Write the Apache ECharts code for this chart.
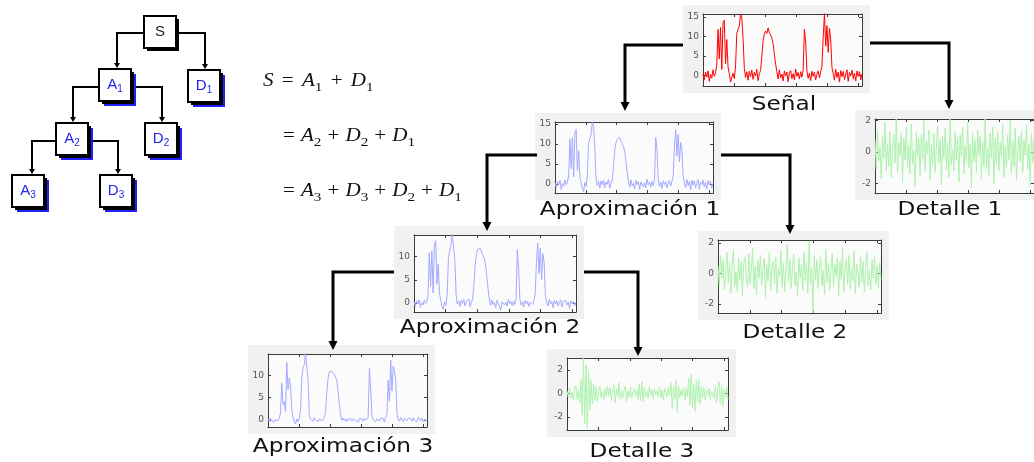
<!DOCTYPE html>
<html>
<head>
<meta charset="utf-8">
<script src="https://cdn.jsdelivr.net/npm/echarts@6/dist/echarts.min.js"></script>
<style>
html, body { margin: 0; padding: 0; background: #ffffff; }
#chart { width: 1034px; height: 462px; }
</style>
</head>
<body>
<div id="chart"></div>
<script>
// Original signal and the three-level wavelet decomposition (approximations and details)
const senal = [0.3,-1.2,0.8,-0.5,1.1,-1.6,0.2,-0.8,1.4,-0.3,0.6,
  2.5,11.8,4.2,12.3,1.5,13.5,14.2,3.0,9.2,2.1,0.4,-1.8,-2.3,0.5,-0.9,
  2.4,10.8,11.9,12.6,15.8,14.9,9.5,1.8,-0.6,0.9,-1.3,1.0,-0.4,1.3,-1.1,0.7,-0.2,1.5,-1.4,0.4,
  1.2,4.8,8.9,10.6,11.4,10.8,12.2,11.0,10.4,9.6,8.1,5.4,2.8,0.9,-1.0,1.4,-0.7,0.3,-1.5,1.1,-0.2,0.8,-1.7,0.6,1.2,-0.9,0.4,-1.2,1.6,-0.3,0.7,-1.0,0.9,-0.5,
  1.3,11.9,8.6,1.1,-0.8,0.5,-1.4,1.0,-0.3,0.8,-1.2,0.2,1.1,-0.7,0.9,
  2.2,9.8,15.9,7.5,12.8,5.9,12.1,9.3,2.0,0.4,-1.3,1.5,-0.6,0.8,-1.8,1.2,-0.4,1.0,-1.1,0.3,1.4,-1.6,0.7,-0.2,1.3,-0.9,0.5,-1.5,1.1,-0.3,0.9,-1.2,0.4];

const aprox1 = [0.4,-1.0,0.6,-0.3,0.9,-1.4,0.1,-0.6,1.0,-0.2,0.5,
  2.0,11.2,3.8,11.6,1.8,13.0,13.6,3.4,8.3,1.6,0.3,-1.2,-1.9,0.4,-0.6,
  2.0,10.2,11.4,12.3,15.5,14.2,9.0,1.5,-0.4,0.7,-1.0,0.8,-0.2,1.0,-0.9,0.5,-0.1,1.1,-1.1,0.3,
  1.0,4.4,8.5,10.3,11.2,10.9,11.6,10.7,10.1,9.4,8.2,5.6,2.9,0.8,-0.8,1.0,-0.5,0.2,-1.2,0.9,-0.1,0.6,-1.4,0.5,0.9,-0.7,0.3,-1.0,1.2,-0.2,0.5,-0.8,0.7,-0.4,
  1.1,11.6,8.2,1.0,-0.6,0.4,-1.1,0.8,-0.2,0.6,-1.0,0.2,0.9,-0.5,0.7,
  2.0,9.2,13.6,7.0,12.4,5.5,10.4,8.6,1.8,0.3,-1.0,1.2,-0.4,0.6,-1.5,1.0,-0.3,0.8,-0.9,0.2,1.1,-1.3,0.5,-0.1,1.0,-0.7,0.4,-1.2,0.9,-0.2,0.7,-1.0,0.3];

const detalle1 = [0.8,-1.1,1.4,-0.6,0.3,-1.7,1.0,-0.4,1.9,-1.2,0.5,-0.9,1.3,-1.6,0.2,1.1,-0.7,2.1,-1.3,0.6,
  -0.2,1.2,-1.9,0.9,-0.5,1.6,-1.0,0.4,-1.4,1.8,-0.8,0.1,-2.2,1.3,-0.3,0.9,-1.5,1.1,-0.6,2.0,
  -1.2,0.7,-0.1,1.4,-1.8,0.5,-0.9,1.2,-1.3,0.3,1.7,-0.7,0.8,-2.1,1.0,-0.4,1.5,-1.1,0.6,-1.6,
  2.2,-0.8,0.2,-1.2,1.3,-0.5,0.9,-1.9,1.1,-0.3,1.6,-1.4,0.4,-0.7,1.9,-1.0,0.5,-2.3,1.2,-0.6,
  0.8,-1.3,1.4,-0.2,1.0,-1.7,0.7,-0.9,2.1,-1.1,0.3,-1.5,1.2,-0.4,1.6,-2.0,0.9,-0.8,1.3,-1.2,
  0.6,-0.3,1.8,-1.6,0.4,-1.0,1.1,-0.5,2.0,-1.4,0.7,-0.9,1.5,-1.8,0.2,1.0,-0.6,1.4,-1.3,0.8,
  -0.2,1.7,-1.1,0.5,-2.1,1.2,-0.7,0.9];

const aprox2 = [0.3,-0.6,0.5,-0.2,0.7,-0.9,0.1,-0.4,0.6,-0.1,0.4,
  1.6,10.8,3.6,11.2,2.2,12.6,13.4,4.0,8.4,2.0,0.6,-0.8,-1.3,0.3,-0.5,
  1.8,9.8,11.2,12.6,14.8,14.6,9.4,1.8,-0.2,0.5,-0.7,0.6,-0.1,0.8,-0.6,0.4,0.0,0.9,-0.8,0.2,
  0.9,4.2,8.3,10.6,11.5,11.2,11.7,10.9,10.2,9.6,8.4,6.0,3.2,0.9,-0.5,0.7,-0.3,0.2,-1.0,0.6,0.0,0.4,-1.5,0.3,0.7,-0.4,0.2,-0.6,0.8,-0.1,0.4,-0.6,0.5,-0.3,
  0.9,11.4,7.6,0.8,-0.4,0.3,-0.8,0.6,-0.1,0.4,-0.7,0.2,0.6,-0.3,0.5,
  1.8,8.9,12.9,6.4,11.8,5.0,10.6,8.8,1.6,0.2,-0.6,0.8,-0.2,0.4,-1.0,0.6,-0.2,0.5,-0.6,0.1,0.7,-0.8,0.3,0.0,0.6,-0.4,0.2,-1.2,0.5,-0.1,0.4,-0.6,0.2];

const detalle2 = [0.5,-0.8,1.2,-0.3,0.9,-1.1,0.2,1.4,-0.6,0.7,-1.3,0.4,1.6,-0.9,0.1,-1.2,1.0,-0.4,0.8,-1.5,
  0.6,1.1,-0.2,-0.9,1.3,-0.7,0.3,1.7,-1.0,0.5,-1.4,0.9,-0.3,1.2,-0.8,0.2,1.0,-1.6,0.6,-0.5,
  1.4,-1.1,0.4,0.8,-0.7,1.1,-1.3,0.3,-0.2,1.5,-0.9,0.7,-1.2,0.2,1.9,-0.6,0.9,-1.0,0.4,1.3,
  -0.8,0.1,-1.5,1.0,-0.3,0.6,-1.1,1.4,-0.5,0.8,-1.3,2.1,-0.7,0.3,-2.6,1.2,-0.4,0.9,-1.0,0.5,
  1.1,-0.8,0.2,-1.4,1.6,-0.6,0.7,-1.1,0.3,1.3,-0.9,0.6,-0.2,1.0,-1.5,0.8,-0.4,1.7,-1.2,0.4,
  0.9,-0.7,1.2,-1.0,0.3,-0.5,1.5,-1.3,0.6,0.1,-0.9,1.1,-0.6,0.8,-1.2,0.4,1.4,-0.8,0.2,-1.1,
  0.9,-0.3,1.2,-0.7,0.5,-1.0,0.7,-0.4];

const aprox3 = [0.2,-0.3,0.4,-0.1,0.3,-0.5,0.1,0.2,-0.2,0.4,
  1.5,8.2,3.5,4.1,1.8,12.9,6.8,9.4,7.6,2.5,0.6,-0.3,-0.9,0.2,-0.4,
  0.4,2.2,9.6,11.8,12.4,15.0,14.6,8.8,1.2,0.1,0.4,-0.3,0.5,0.0,0.3,-0.4,0.2,0.6,-0.2,0.1,
  0.5,1.9,6.2,9.4,10.8,11.0,10.9,10.6,10.2,9.8,8.9,6.4,3.4,1.2,-0.1,0.4,-0.2,0.3,-0.4,0.2,0.1,0.3,-0.3,0.2,0.4,-0.2,0.1,-0.5,0.3,0.0,0.2,-0.3,0.4,-0.1,0.2,
  0.6,11.5,7.2,0.9,0.0,0.3,-0.4,0.2,0.1,-0.2,0.4,0.0,0.3,-0.5,0.6,
  1.2,8.9,4.2,13.4,6.5,12.1,11.0,9.0,1.4,0.2,-0.3,0.5,0.1,-0.4,0.3,0.2,-0.2,0.4,0.0,0.3,-0.3,0.5,-0.1,0.2,-0.4,0.6,0.3,-0.2,0.4,-0.5,0.1,0.3,-0.2];

const detalle3 = [0.2,-0.3,0.5,-0.4,0.1,-0.6,0.4,0.7,-0.5,0.3,-0.8,
  1.2,-1.8,3.1,-2.6,2.4,-3.0,1.9,-1.4,1.1,-0.9,
  0.8,-0.6,0.5,-0.7,0.3,0.6,-0.4,0.2,-0.5,0.4,-0.3,0.6,-0.2,0.5,-0.6,0.3,
  0.7,-0.8,0.4,-0.3,0.9,-0.5,0.2,-0.4,0.3,0.6,-0.7,0.2,-0.3,0.5,-0.4,0.1,0.4,-0.2,0.3,-0.5,
  0.8,-0.6,1.0,-0.7,0.5,-0.3,0.2,-0.4,0.6,-0.2,0.3,-0.5,0.4,-0.1,0.2,-0.3,0.5,-0.4,0.3,-0.6,0.4,0.1,-0.3,0.5,-0.2,
  0.9,-1.3,0.6,-0.5,1.1,-1.6,0.7,-0.4,0.3,-0.2,0.5,-0.6,0.4,-0.3,
  1.3,-1.0,1.6,-1.2,0.8,-1.5,1.1,-0.7,1.2,-0.9,0.6,-0.4,0.5,-0.6,0.3,-0.2,0.4,-0.5,0.2,0.3,-0.4,0.6,-0.8,0.5,1.0,-0.9,0.7,-1.1,0.4,-0.3,0.6,-0.5];

// Panel titles and y tick values
const titles = ['Señal', 'Aproximación 1', 'Detalle 1', 'Aproximación 2', 'Detalle 2', 'Aproximación 3', 'Detalle 3'];
const ticksAprox = [0, 5, 10, 15];
const ticksAproxLow = [0, 5, 10];
const ticksDetalle = [-2, 0, 2];

// Layout of each small plot: [left, top, width, height], y range, title centre
const plots = [
  { data: senal,    color: '#ff0000', box: [703, 14, 159, 72],  y: [-2.8, 15.8], ticks: ticksAprox,    title: titles[0], tx: 784, ty: 105 },
  { data: aprox1,   color: '#a4a9ff', box: [555, 122, 158, 71], y: [-2.25, 15.5], ticks: ticksAprox,   title: titles[1], tx: 630, ty: 210 },
  { data: detalle1, color: '#aef2ae', box: [875, 119, 162, 74], y: [-2.6, 2.1],  ticks: ticksDetalle,  title: titles[2], tx: 950, ty: 210 },
  { data: aprox2,   color: '#a4a9ff', box: [414, 235, 162, 77], y: [-1.9, 14.6], ticks: ticksAproxLow, title: titles[3], tx: 490, ty: 328 },
  { data: detalle2, color: '#aef2ae', box: [718, 240, 163, 73], y: [-2.6, 2.2],  ticks: ticksDetalle,  title: titles[4], tx: 795, ty: 333 },
  { data: aprox3,   color: '#a4a9ff', box: [268, 354, 159, 73], y: [-1.6, 14.8], ticks: ticksAproxLow, title: titles[5], tx: 343, ty: 447 },
  { data: detalle3, color: '#aef2ae', box: [567, 358, 161, 72], y: [-3.1, 3.0],  ticks: ticksDetalle,  title: titles[6], tx: 642, ty: 452 }
];

const grids = [], xAxes = [], yAxes = [], series = [], gfx = [];
const axisColor = '#3a3a3a';

plots.forEach((p, i) => {
  const [l, t, w, h] = p.box;
  grids.push({ left: l, top: t, width: w, height: h, show: true, backgroundColor: '#fbfbfb', borderWidth: 0 });
  const n = p.data.length - 1;
  const xTicks = [0.195, 0.39, 0.586, 0.781, 0.977].map(f => f * n);
  const xBase = {
    gridIndex: i, type: 'value', min: 0, max: n,
    axisLine: { show: true, onZero: false, lineStyle: { color: axisColor, width: 1 } },
    axisTick: { show: true, inside: true, length: 3, customValues: xTicks, lineStyle: { color: axisColor } },
    axisLabel: { show: false }, splitLine: { show: false }
  };
  xAxes.push(Object.assign({}, xBase, { position: 'bottom' }), Object.assign({}, xBase, { position: 'top' }));
  const yBase = {
    gridIndex: i, type: 'value', min: p.y[0], max: p.y[1],
    axisLine: { show: true, onZero: false, lineStyle: { color: axisColor, width: 1 } },
    axisTick: { show: true, inside: true, length: 3, customValues: p.ticks, lineStyle: { color: axisColor } },
    splitLine: { show: false }
  };
  yAxes.push(
    Object.assign({}, yBase, { position: 'left', axisLabel: { show: true, customValues: p.ticks, fontSize: 9, color: '#555', margin: 4, fontFamily: 'DejaVu Sans' } }),
    Object.assign({}, yBase, { position: 'right', axisLabel: { show: false } })
  );
  series.push({
    type: 'line', xAxisIndex: 2 * i, yAxisIndex: 2 * i,
    data: p.data.map((v, k) => [k, v]),
    symbol: 'none', lineStyle: { color: p.color, width: 1 }, clip: true, silent: true, animation: false
  });
  // light grey figure panel behind each plot
  gfx.push({ type: 'rect', z: -10, silent: true, shape: { x: l - 20, y: t - 9, width: w + 28, height: h + 16 }, style: { fill: '#f1f1f1' } });
  // panel title
  gfx.push({ type: 'text', z: 20, silent: true, x: p.tx, y: p.ty, scaleX: 1.16,
    style: { text: p.title, fill: '#111', font: '20px "DejaVu Sans"', textAlign: 'center', textVerticalAlign: 'middle' } });
});

// ---- connectors between the plots ----
function polyline(points, lw, z) {
  gfx.push({ type: 'polyline', z: z || 30, silent: true, shape: { points: points }, style: { stroke: '#000', lineWidth: lw, fill: null } });
}
function arrowHead(x, tipY, w, h) {
  gfx.push({ type: 'polygon', z: 31, silent: true, shape: { points: [[x - w / 2, tipY - h], [x + w / 2, tipY - h], [x, tipY]] }, style: { fill: '#000' } });
}
function bigArrow(x0, y0, x1, tipY) {
  polyline([[x0, y0], [x1, y0], [x1, tipY - 6]], 3);
  arrowHead(x1, tipY, 9, 9);
}
bigArrow(683, 45, 625, 111);
bigArrow(870, 43, 949, 109);
bigArrow(537, 155, 487, 231);
bigArrow(721, 155, 790, 234);
bigArrow(394, 272, 333, 350);
bigArrow(584, 272, 638, 356);

// ---- decomposition tree ----
const measureCtx = document.createElement('canvas').getContext('2d');
function textWidth(font, s) { measureCtx.font = font; return measureCtx.measureText(s).width; }

function treeBox(x, y, letter, sub, blue) {
  const s = 32;
  if (blue) gfx.push({ type: 'rect', z: 40, silent: true, shape: { x: x + 5, y: y + 5, width: s, height: s }, style: { fill: '#1f1fff' } });
  gfx.push({ type: 'rect', z: 41, silent: true, shape: { x: x + 3, y: y + 3, width: s, height: s }, style: { fill: '#000' } });
  gfx.push({ type: 'rect', z: 42, silent: true, shape: { x: x, y: y, width: s, height: s }, style: { fill: '#fff', stroke: '#000', lineWidth: 2 } });
  const fMain = '15px "Liberation Sans"', fSub = '10px "Liberation Sans"';
  const col = blue ? '#2424e8' : '#222';
  const wMain = textWidth(fMain, letter), wSub = sub ? textWidth(fSub, sub) : 0;
  const x0 = x + s / 2 - (wMain + wSub) / 2;
  gfx.push({ type: 'text', z: 43, silent: true, x: x0, y: y + 16, style: { text: letter, font: fMain, fill: col, textAlign: 'left', textVerticalAlign: 'middle' } });
  if (sub) gfx.push({ type: 'text', z: 43, silent: true, x: x0 + wMain, y: y + 20, style: { text: sub, font: fSub, fill: col, textAlign: 'left', textVerticalAlign: 'middle' } });
}
function treeLink(x0, y0, x1, tipY) {
  polyline([[x0, y0], [x1, y0], [x1, tipY - 3]], 2, 39);
  gfx.push({ type: 'polygon', z: 39, silent: true, shape: { points: [[x1 - 3, tipY - 5], [x1 + 3, tipY - 5], [x1, tipY]] }, style: { fill: '#000' } });
}
treeLink(143, 33, 117, 68);
treeLink(176, 33, 205, 69);
treeLink(99, 87, 73, 122);
treeLink(131, 87, 162, 122);
treeLink(56, 141, 32, 174);
treeLink(88, 141, 118, 174);
treeBox(144, 16, 'S', '', false);
treeBox(99, 69, 'A', '1', true);
treeBox(188, 70, 'D', '1', true);
treeBox(56, 123, 'A', '2', true);
treeBox(145, 123, 'D', '2', true);
treeBox(12, 175, 'A', '3', true);
treeBox(100, 175, 'D', '3', true);

// ---- equations ----
const eqFonts = {
  i: 'italic 18px "Liberation Serif"',
  r: '18px "Liberation Serif"',
  s: '13px "Liberation Serif"'
};
const eqScale = 1.17;
// gap: extra spacing added on each side of the = and + operators
function equation(x, baseline, gap, tokens) {
  let cx = x;
  tokens.forEach(([t, k]) => {
    const op = k === 'r';
    if (op && t.charAt(0) === ' ') cx += gap;
    const w = textWidth(eqFonts[k], t) * eqScale;
    const yMid = k === 's' ? baseline + 5 - 4.4 : baseline - 6;
    gfx.push({ type: 'text', z: 20, silent: true, x: cx, y: yMid, scaleX: eqScale,
      style: { text: t, font: eqFonts[k], fill: '#111', textAlign: 'left', textVerticalAlign: 'middle' } });
    cx += w + (op ? gap : 0);
  });
}
equation(263, 87, 3, [['S', 'i'], [' = ', 'r'], ['A', 'i'], ['1', 's'], [' + ', 'r'], ['D', 'i'], ['1', 's']]);
equation(283, 142, 0.8, [['= ', 'r'], ['A', 'i'], ['2', 's'], [' + ', 'r'], ['D', 'i'], ['2', 's'], [' + ', 'r'], ['D', 'i'], ['1', 's']]);
equation(283, 197, 0.8, [['= ', 'r'], ['A', 'i'], ['3', 's'], [' + ', 'r'], ['D', 'i'], ['3', 's'], [' + ', 'r'], ['D', 'i'], ['2', 's'], [' + ', 'r'], ['D', 'i'], ['1', 's']]);

const chart = echarts.init(document.getElementById('chart'), null, { renderer: 'canvas' });
chart.setOption({
  backgroundColor: '#ffffff',
  animation: false,
  grid: grids,
  xAxis: xAxes,
  yAxis: yAxes,
  series: series,
  graphic: { elements: gfx }
});
</script>
</body>
</html>
